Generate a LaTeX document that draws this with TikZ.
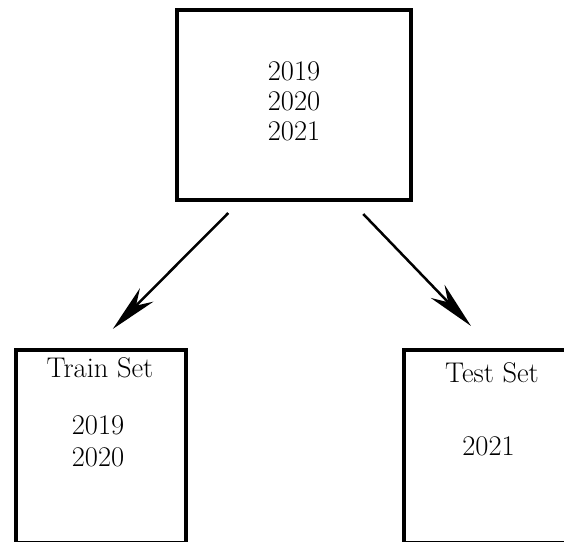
\documentclass[tikz,border=0pt]{standalone}
\usetikzlibrary{arrows.meta,calc}
\begin{document}
\begin{tikzpicture}[x=1pt,y=-1pt,
  box/.style={draw=black,line width=4pt,rectangle,inner sep=0pt},
  label/.style={anchor=base,inner sep=0pt,font=\fontsize{28.5}{30}\selectfont},
  link/.style={line width=2.5pt,-{Stealth[length=48pt,width=19pt,inset=15pt]}}]
  \useasboundingbox (0,0) rectangle (564,541);
  \clip (0,0) rectangle (564,541);
  % boxes
  \node[box,minimum width=234pt,minimum height=190pt] (all) at (294.25,105) {};
  \node[box,minimum width=170.5pt,minimum height=193pt] (train) at (100.75,446.5) {};
  \node[box,minimum width=176pt,minimum height=193pt] (test) at (492,446.5) {};
  % texts
  \node[label] (y1) at (294,80) {2019};
  \node[label] (y2) at (294,110) {2020};
  \node[label] (y3) at (294,140) {2021};
  \node[label] (trt) at (100,377) {Train Set};
  \node[label] (tr1) at (98,434) {2019};
  \node[label] (tr2) at (98,466) {2020};
  \node[label] (tet) at (492,382) {Test Set};
  \node[label] (te1) at (488.5,455) {2021};
  % arrow ends
  \coordinate (ls) at ($(all.south)+(-66,11)$);
  \coordinate (le) at ($(train.north)+(12,-19)$);
  \coordinate (rs) at ($(all.south)+(69,12)$);
  \coordinate (re) at ($(test.north)+(-21,-22)$);
  \draw[link] (ls) -- (le);
  \draw[link] (rs) -- (re);
\end{tikzpicture}
\end{document}
